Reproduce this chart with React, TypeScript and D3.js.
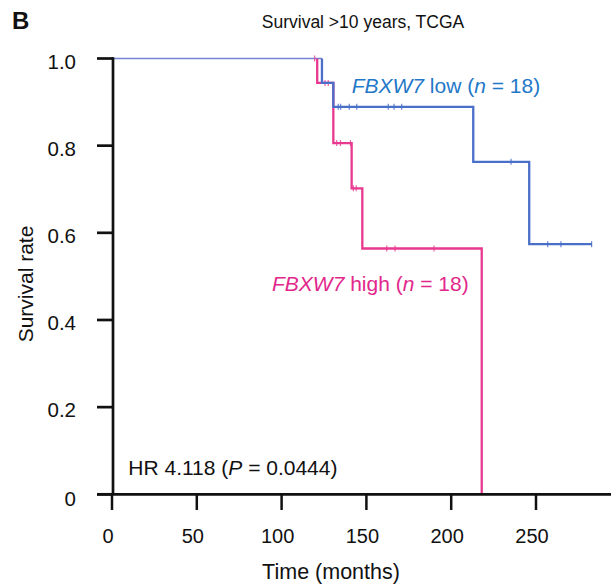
import React from "react";
import * as d3 from "d3";

const xTicks = [0, 50, 100, 150, 200, 250];
const yTicks = [0, 0.2, 0.4, 0.6, 0.8, 1.0];
const yTickLabels = ["0", "0.2", "0.4", "0.6", "0.8", "1.0"];

// FBXW7 low (blue)
const lowTimes = [0, 123.8, 130.5, 213, 246, 283];
const lowSurv = [1, 0.944, 0.889, 0.763, 0.574, 0.574];
const lowCensorT = [133.4, 134.8, 139.9, 144.3, 162.9, 166.3, 170.8, 235.3, 256.9, 264.7, 282.8];
const lowCensorS = [0.889, 0.889, 0.889, 0.889, 0.889, 0.889, 0.889, 0.763, 0.574, 0.574, 0.574];

// FBXW7 high (pink)
const highTimes = [0, 121, 130.5, 141.3, 147.6, 218];
const highSurv = [1, 0.944, 0.806, 0.702, 0.564, 0];
const highCensorT = [119.5, 125.6, 127.5, 132.5, 134.7, 140.6, 142.3, 144, 162, 166.9, 189.9];
const highCensorS = [1, 0.944, 0.944, 0.806, 0.806, 0.806, 0.702, 0.702, 0.564, 0.564, 0.564];

const FONT = "Liberation Sans, Arial, Helvetica, sans-serif";
const BLUE = "#4a6fc8";
const PINK = "#e8388f";

export default function App() {
  const x = d3.scaleLinear().domain([0, 250]).range([112, 536]);
  const y = d3.scaleLinear().domain([0, 1]).range([494.3, 58.5]);

  const line = d3
    .line<[number, number]>()
    .x((d) => x(d[0]))
    .y((d) => y(d[1]))
    .curve(d3.curveStepAfter);

  const lowPts: [number, number][] = lowTimes.map((t, i) => [t, lowSurv[i]]);
  const highPts: [number, number][] = highTimes.map((t, i) => [t, highSurv[i]]);
  const lowMain = lowPts.slice(1);
  lowMain.unshift([lowTimes[1], 1]);
  const highMain = highPts.slice(1);
  highMain.unshift([highTimes[1], 1]);

  const axisX0 = 97;
  const axisX1 = 611;

  return (
    <svg
      width={614}
      height={585}
      style={{ position: "absolute", left: 0, top: 0, background: "#fff" }}
      fontFamily={FONT}
    >
      <rect x={0} y={0} width={614} height={585} fill="#fff" />
      <text x={12} y={29} fontSize={24} fontWeight="bold" fill="#111">
        B
      </text>
      <text x={363} y={28} fontSize={17.5} textAnchor="middle" fill="#111">
        Survival &gt;10 years, TCGA
      </text>

      <line
        x1={x(0)}
        x2={x(lowTimes[1])}
        y1={y(1)}
        y2={y(1)}
        stroke="#7585d4"
        strokeWidth={1.3}
      />

      <path d={line(highMain) || ""} fill="none" stroke={PINK} strokeWidth={2.3} />
      {highCensorT.map((t, i) => (
        <line
          key={"hc" + i}
          x1={x(t)}
          x2={x(t)}
          y1={y(highCensorS[i]) - 3}
          y2={y(highCensorS[i]) + 3}
          stroke={PINK}
          strokeWidth={1.2}
          opacity={0.8}
        />
      ))}

      <path d={line(lowMain) || ""} fill="none" stroke={BLUE} strokeWidth={2.3} />
      {lowCensorT.map((t, i) => (
        <line
          key={"lc" + i}
          x1={x(t)}
          x2={x(t)}
          y1={y(lowCensorS[i]) - 3}
          y2={y(lowCensorS[i]) + 3}
          stroke={BLUE}
          strokeWidth={1.2}
          opacity={0.85}
        />
      ))}

      <line x1={113} x2={113} y1={y(1) - 1.2} y2={y(0)} stroke="#111" strokeWidth={2.7} />
      {yTicks.map((v, i) => (
        <g key={"yt" + i}>
          <line x1={axisX0} x2={113} y1={y(v)} y2={y(v)} stroke="#111" strokeWidth={2.7} />
          <text
            x={76}
            y={y(v) + (v === 0 ? 12 : 10)}
            fontSize={20.5}
            textAnchor="end"
            fill="#111"
          >
            {yTickLabels[i]}
          </text>
        </g>
      ))}
      <text
        transform={`translate(33, 284) rotate(-90)`}
        fontSize={21}
        textAnchor="middle"
        fill="#111"
      >
        Survival rate
      </text>

      <line x1={axisX0} x2={axisX1} y1={y(0)} y2={y(0)} stroke="#111" strokeWidth={2.8} />
      {xTicks.map((v, i) => (
        <g key={"xt" + i}>
          <line x1={x(v)} x2={x(v)} y1={y(0)} y2={510} stroke="#111" strokeWidth={2.5} />
          <text x={x(v) - 4} y={543} fontSize={20} textAnchor="middle" fill="#111">
            {v}
          </text>
        </g>
      ))}
      <text x={331} y={579} fontSize={21.5} textAnchor="middle" fill="#111">
        Time (months)
      </text>

      <text x={351.7} y={93.3} fontSize={21} fill="#1f78c8">
        <tspan fontStyle="italic">FBXW7</tspan>
        <tspan> low (</tspan>
        <tspan fontStyle="italic">n</tspan>
        <tspan> = 18)</tspan>
      </text>
      <text x={272} y={291} fontSize={21} fill="#e2278b">
        <tspan fontStyle="italic">FBXW7</tspan>
        <tspan> high (</tspan>
        <tspan fontStyle="italic">n</tspan>
        <tspan> = 18)</tspan>
      </text>
      <text x={128.3} y={475} fontSize={21} fill="#111">
        <tspan>HR 4.118 (</tspan>
        <tspan fontStyle="italic">P</tspan>
        <tspan> = 0.0444)</tspan>
      </text>
    </svg>
  );
}
